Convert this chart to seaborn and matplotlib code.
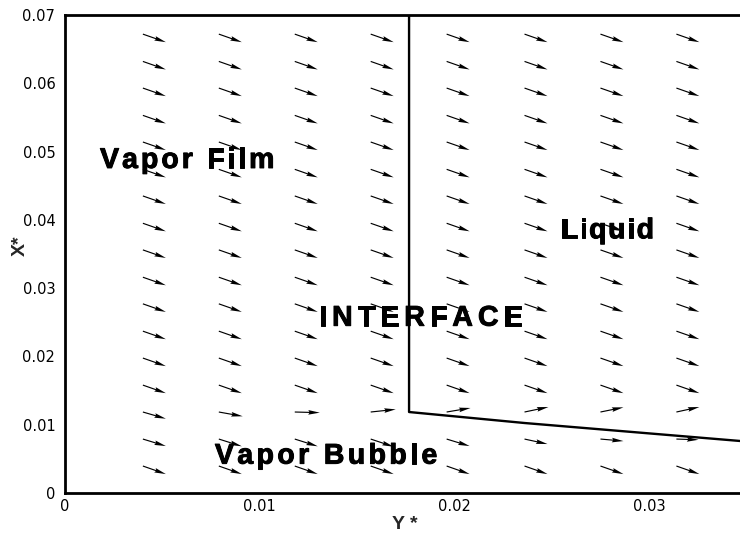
import matplotlib
matplotlib.use("Agg")
import numpy as np
import pandas as pd
import seaborn as sns
import matplotlib.pyplot as plt
import matplotlib.patheffects as pe
from matplotlib.ticker import MultipleLocator
from matplotlib.font_manager import FontProperties, findfont, get_font
from matplotlib.transforms import offset_copy

# ---------------- data ----------------
col_x = [0.0040, 0.0079, 0.0118, 0.0157, 0.0196, 0.0236, 0.0275, 0.0314]
row_y = [0.00395, 0.0079, 0.01186, 0.0158, 0.01976, 0.0237, 0.0277, 0.0316,
         0.0356, 0.0395, 0.0435, 0.0474, 0.0514, 0.0553, 0.0593, 0.0632, 0.0672]

# velocity components, one list per row (bottom row first), one value per column
U_rows = [
    [1.00, 1.00, 1.00, 1.00, 1.00, 1.00, 1.00, 1.00],
    [1.00, 1.00, 1.00, 1.00, 1.00, 1.00, 1.00, 0.96],
    [1.00, 1.04, 1.09, 1.09, 1.04, 1.04, 1.00, 1.00],
    [1.00, 1.00, 1.00, 1.00, 1.00, 1.00, 1.00, 1.00],
    [1.00, 1.00, 1.00, 1.00, 1.00, 1.00, 1.00, 1.00],
    [1.00, 1.00, 1.00, 1.00, 1.00, 1.00, 1.00, 1.00],
    [1.00, 1.00, 1.00, 1.00, 1.00, 1.00, 1.00, 1.00],
    [1.00, 1.00, 1.00, 1.00, 1.00, 1.00, 1.00, 1.00],
    [1.00, 1.00, 1.00, 1.00, 1.00, 1.00, 1.00, 1.00],
    [1.00, 1.00, 1.00, 1.00, 1.00, 1.00, 1.00, 1.00],
    [1.00, 1.00, 1.00, 1.00, 1.00, 1.00, 1.00, 1.00],
    [1.00, 1.00, 1.00, 1.00, 1.00, 1.00, 1.00, 1.00],
    [1.00, 1.00, 1.00, 1.00, 1.00, 1.00, 1.00, 1.00],
    [1.00, 1.00, 1.00, 1.00, 1.00, 1.00, 1.00, 1.00],
    [1.00, 1.00, 1.00, 1.00, 1.00, 1.00, 1.00, 1.00],
    [1.00, 1.00, 1.00, 1.00, 1.00, 1.00, 1.00, 1.00],
    [1.00, 1.00, 1.00, 1.00, 1.00, 1.00, 1.00, 1.00],
]
V_rows = [
    [-1.00, -1.00, -1.00, -1.00, -1.00, -1.00, -1.00, -1.00],
    [-0.87, -0.90, -0.90, -0.95, -0.87, -0.62, -0.25, -0.09],
    [-0.83, -0.53, -0.08, 0.33, 0.50, 0.62, 0.58, 0.62],
    [-1.00, -1.00, -1.00, -1.00, -1.00, -1.00, -1.00, -1.00],
    [-1.00, -1.00, -1.00, -1.00, -1.00, -1.00, -1.00, -1.00],
    [-1.00, -1.00, -1.00, -1.00, -1.00, -1.00, -1.00, -1.00],
    [-1.00, -1.00, -1.00, -1.00, -1.00, -1.00, -1.00, -1.00],
    [-1.00, -1.00, -1.00, -1.00, -1.00, -1.00, -1.00, -1.00],
    [-1.00, -1.00, -1.00, -1.00, -1.00, -1.00, -1.00, -1.00],
    [-1.00, -1.00, -1.00, -1.00, -1.00, -1.00, -1.00, -1.00],
    [-1.00, -1.00, -1.00, -1.00, -1.00, -1.00, -1.00, -1.00],
    [-1.00, -1.00, -1.00, -1.00, -1.00, -1.00, -1.00, -1.00],
    [-1.00, -1.00, -1.00, -1.00, -1.00, -1.00, -1.00, -1.00],
    [-1.00, -1.00, -1.00, -1.00, -1.00, -1.00, -1.00, -1.00],
    [-1.00, -1.00, -1.00, -1.00, -1.00, -1.00, -1.00, -1.00],
    [-1.00, -1.00, -1.00, -1.00, -1.00, -1.00, -1.00, -1.00],
    [-1.00, -1.00, -1.00, -1.00, -1.00, -1.00, -1.00, -1.00],
]

# interface polyline (horizontal axis Y*, vertical axis X*)
iface_ystar = [0.01767, 0.01767, 0.0236, 0.0350]
iface_xstar = [0.0700, 0.01186, 0.01025, 0.00754]

# region labels
labels = ["Vapor Film", "Liquid", "INTERFACE", "Vapor Bubble"]
label_left = [0.0018, 0.02545, 0.01305, 0.0077]
label_right = [0.01075, 0.03025, 0.02350, 0.01912]
label_base = [0.0476, 0.0373, 0.0245, 0.0043]

xticks = [0.0, 0.01, 0.02, 0.03]
xtick_labels = ["0", "0.01", "0.02", "0.03"]
yticks = [0.0, 0.01, 0.02, 0.03, 0.04, 0.05, 0.06, 0.07]
ytick_labels = ["0", "0.01", "0.02", "0.03", "0.04", "0.05", "0.06", "0.07"]

# ---------------- figure ----------------
sns.set_theme(style="white")
plt.rcParams["font.family"] = ["DejaVu Sans"]

DPI = 100
fig = plt.figure(figsize=(7.40, 5.36), dpi=DPI)
ax = fig.add_axes([65 / 740, 43 / 536, 681.5 / 740, 478 / 536])
ax.set_xlim(0, 0.035)
ax.set_ylim(0, 0.07)

# vectors
gx, gy = np.meshgrid(col_x, row_y)
U = np.array(U_rows)
V = np.array(V_rows)
ax.quiver(gx, gy, U, V, angles="xy", scale_units="xy", scale=847,
          color="black", width=0.0017, headwidth=4.0, headlength=10,
          headaxislength=9, pivot="tail", zorder=3)

# interface line
iface = pd.DataFrame({"ystar": iface_ystar, "xstar": iface_xstar})
sns.lineplot(data=iface, x="ystar", y="xstar", sort=False, estimator=None,
             color="black", linewidth=1.7, ax=ax, zorder=4)

# tracked bold labels (Tecplot-like letter spacing)
LABEL_SIZE = 20.5
fp = FontProperties(family="Liberation Sans", weight="bold", size=LABEL_SIZE)
ft = get_font(findfont(fp))
ft.set_size(LABEL_SIZE, DPI)
renderer = fig.canvas.get_renderer()
heavy = [pe.withStroke(linewidth=0.7, foreground="black")]


def advance(ch):
    g = ft.load_char(ord(ch))
    return g.linearHoriAdvance / 65536.0


for s, x0, x1, yb in zip(labels, label_left, label_right, label_base):
    p0 = ax.transData.transform((x0, yb))
    p1 = ax.transData.transform((x1, yb))
    target = p1[0] - p0[0]
    advs = [advance(c) for c in s]
    texts = [ax.text(x0, yb, c, fontproperties=fp, color="black",
                     ha="left", va="baseline", zorder=5, path_effects=heavy)
             for c in s]

    def layout(track):
        off = 0.0
        for t, a in zip(texts, advs):
            t.set_transform(offset_copy(ax.transData, fig=fig, x=off, y=0, units="dots"))
            off += a + track

    track = 0.0
    for _ in range(3):
        layout(track)
        bbs = [t.get_window_extent(renderer) for t, c in zip(texts, s) if c != " "]
        w = max(b.x1 for b in bbs) - min(b.x0 for b in bbs)
        track += (target - w) / (len(s) - 1)
    layout(track)

# axes styling
for side in ["left", "bottom", "top", "right"]:
    ax.spines[side].set_color("black")
    ax.spines[side].set_linewidth(2.0)
ax.set_xticks(xticks)
ax.set_xticklabels(xtick_labels)
ax.set_yticks(yticks)
ax.set_yticklabels(ytick_labels)
ax.xaxis.set_minor_locator(MultipleLocator(0.002))
ax.yaxis.set_minor_locator(MultipleLocator(0.002))
ax.tick_params(which="major", direction="in", length=13, width=2.0,
               color="black", labelsize=10.5, labelcolor="black")
ax.tick_params(axis="y", which="major", pad=7)
ax.tick_params(axis="x", which="major", pad=4)
ax.tick_params(which="minor", direction="in", length=6.5, width=1.2, color="black")
ax.tick_params(top=False, right=False, which="both")

axis_fp = FontProperties(family="Liberation Sans", weight="bold", size=14)
ax.set_xlabel("Y *", fontproperties=axis_fp)
ax.set_ylabel("X*", fontproperties=axis_fp)
ax.xaxis.set_label_coords((405 - 65) / 681.5, (493 - 516) / 478)
ax.yaxis.set_label_coords((29 - 65) / 681.5, (493 - 246) / 478)
ax.grid(False)

fig.savefig("out.png", dpi=DPI)
